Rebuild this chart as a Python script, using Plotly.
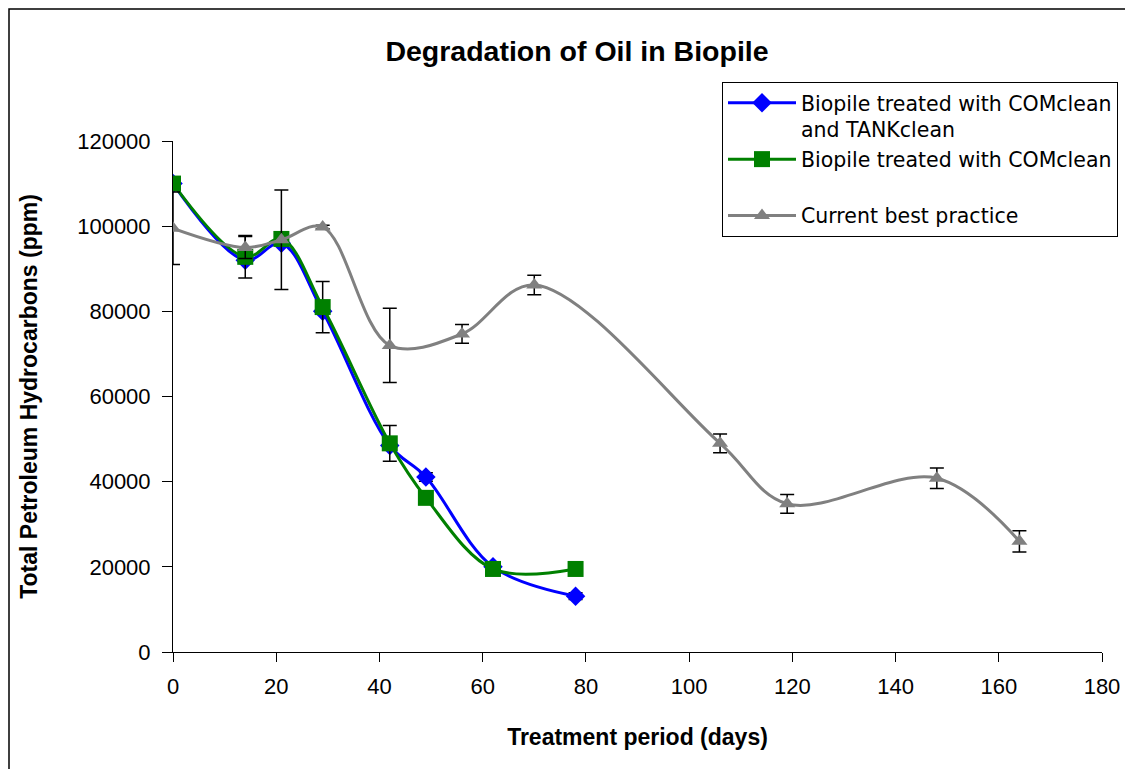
import plotly.graph_objects as go

# ---- data ----
days_blue = [0, 14, 21, 29, 42, 49, 62, 78]
tph_blue = [110000, 92000, 96000, 80000, 48500, 41100, 20000, 13100]
err_blue = [0, 0, 0, 0, 0, 1000, 0, 800]

days_green = [0, 14, 21, 29, 42, 49, 62, 78]
tph_green = [110000, 92800, 97000, 81000, 49000, 36200, 19500, 19500]
err_green = [0, 5000, 0, 6000, 4200, 0, 0, 0]

days_gray = [0, 14, 21, 29, 42, 56, 70, 106, 119, 148, 164]
tph_gray = [99500, 95000, 96800, 99800, 72000, 74700, 86200, 49000, 34800, 40800, 26000]
err_gray = [8500, 2600, 11700, 400, 8700, 2200, 2300, 2200, 2200, 2400, 2500]

names = ["Biopile treated with COMclean<br>and TANKclean",
         "Biopile treated with COMclean<br>\u00a0",
         "Current best practice"]
x_ticks = [0, 20, 40, 60, 80, 100, 120, 140, 160, 180]
y_ticks = [0, 20000, 40000, 60000, 80000, 100000, 120000]

FONT = "Liberation Sans, Arial, sans-serif"
LEG_FONT = "DejaVu Sans, Liberation Sans, sans-serif"
OFF = 8  # page body margin
W, H = 1125, 761
L, R, T, B = 165, 31, 133, 117
pw, ph = W - L - R, H - T - B


def px_x(p):
    return (p - OFF - L) / pw


def px_y(q):
    return (H - B - (q - OFF)) / ph


def err(arr):
    return dict(type="data", array=arr, visible=True, color="black",
                thickness=1.5, width=7)


fig = go.Figure()
fig.add_trace(go.Scatter(
    x=days_blue, y=tph_blue, name=names[0], mode="lines+markers",
    line=dict(color="#0000FF", width=3, shape="spline", smoothing=1),
    marker=dict(symbol="diamond", size=15, color="#0000FF"),
    error_y=err(err_blue)))
fig.add_trace(go.Scatter(
    x=days_green, y=tph_green, name=names[1], mode="lines+markers",
    line=dict(color="#008000", width=3, shape="spline", smoothing=1),
    marker=dict(symbol="square", size=16, color="#008000"),
    error_y=err(err_green)))
fig.add_trace(go.Scatter(
    x=days_gray, y=tph_gray, name=names[2], mode="lines+markers",
    line=dict(color="#808080", width=3, shape="spline", smoothing=1),
    marker=dict(symbol="triangle-up", size=14, color="#808080"),
    error_y=err(err_gray)))

fig.update_layout(
    width=W, height=H,
    margin=dict(l=L, r=R, t=T, b=B, autoexpand=False),
    paper_bgcolor="white", plot_bgcolor="white",
    font=dict(family=FONT, color="black"),
    title=dict(text="<b>Degradation of Oil in Biopile</b>",
               font=dict(size=28.5, family=FONT, color="black"),
               x=px_x(577), xref="paper", xanchor="center",
               y=1 - (51 - OFF) / H, yref="container", yanchor="middle"),
    showlegend=True,
    legend=dict(x=px_x(722), y=px_y(82), xanchor="left", yanchor="top",
                bgcolor="white", bordercolor="black", borderwidth=1,
                font=dict(size=20.5, family=LEG_FONT, color="black"),
                valign="top", itemwidth=68, tracegroupgap=0),
    xaxis=dict(range=[0, 180], tickvals=x_ticks, ticktext=[str(v) for v in x_ticks],
               showgrid=False, zeroline=False, showline=True, linecolor="black",
               linewidth=1, ticks="outside", ticklen=9, tickcolor="black",
               tickfont=dict(size=22, family=FONT), ticklabelstandoff=6,
               title=dict(text="<b>Treatment period (days)</b>",
                          font=dict(size=23, family=FONT), standoff=30)),
    yaxis=dict(range=[0, 120000], tickvals=y_ticks, ticktext=[str(v) for v in y_ticks],
               showgrid=False, zeroline=False, showline=True, linecolor="black",
               linewidth=1, ticks="outside", ticklen=10, tickcolor="black",
               tickfont=dict(size=22, family=FONT), ticklabelstandoff=7,
               title=dict(text="<b>Total Petroleum Hydrocarbons (ppm)</b>",
                          font=dict(size=23, family=FONT), standoff=33)),
    shapes=[dict(type="rect", xref="paper", yref="paper",
                 x0=px_x(9), x1=px_x(1150), y0=px_y(790), y1=px_y(9),
                 line=dict(color="black", width=1.5), fillcolor="rgba(0,0,0,0)",
                 layer="below")],
)

fig.write_html("out.html")
